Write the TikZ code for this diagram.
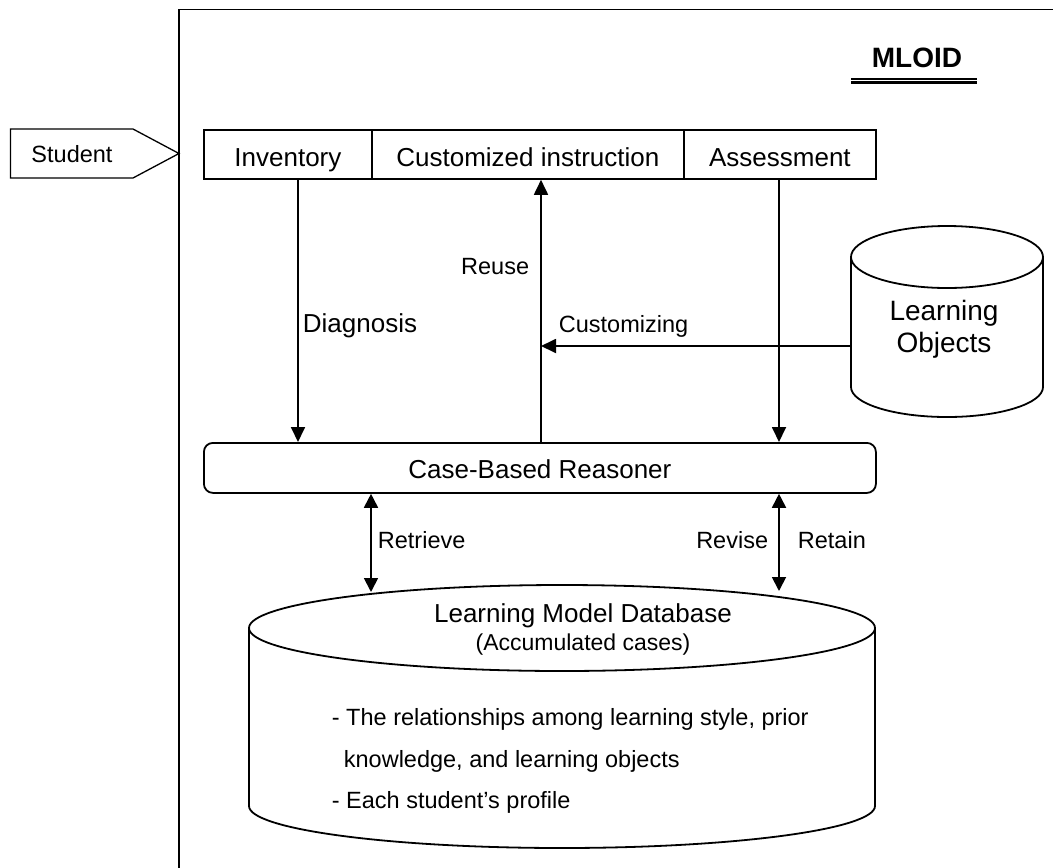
\documentclass[tikz,border=0pt]{standalone}
\usepackage{fontspec}
\setmainfont{Liberation Sans}
\usetikzlibrary{arrows.meta,calc}
\begin{document}
\begin{tikzpicture}[x=1pt,y=-1pt,line width=1.8pt,
  big/.style={font=\fontsize{26}{30}\selectfont},
  small/.style={font=\fontsize{23.5}{28}\selectfont},
  lbl/.style={inner sep=0pt,small},
  topbox/.style={draw,minimum height=49pt,inner sep=0pt,big,anchor=north west,text height=24pt,text depth=0pt},
  arr/.style={-{Triangle[length=15pt,width=14pt]}},
  darr/.style={{Triangle[length=14pt,width=14pt]}-{Triangle[length=14pt,width=14pt]}}]
\useasboundingbox (0,0) rectangle (1053,868);
\fill[white] (0,0) rectangle (1053,868);
% frame
\draw (179,868) -- (179,9.5) -- (1053,9.5);
% title
\node[inner sep=0pt,anchor=base,font=\fontsize{28}{32}\selectfont\bfseries] (title) at (917,67) {MLOID};
\draw[line width=1.4pt] (851,79) -- (977,79);
\draw[line width=3.2pt] (851,82.6) -- (977,82.6);
% student
\draw[line width=1.3pt] (10.5,129) -- (133,129) -- (179,153.5) -- (133,178) -- (10.5,178) -- cycle;
\node[lbl,anchor=base] (stu) at (72,162) {Student};
% top row
\node[topbox,minimum width=168pt] (inv) at (203,129) {Inventory};
\node[topbox,minimum width=312pt] (cust) at (371,129) {Customized instruction};
\node[topbox,minimum width=192pt] (ass) at (683,129) {Assessment};
% case-based reasoner
\node[draw,rounded corners=9pt,minimum width=672pt,minimum height=50pt,inner sep=0pt,anchor=north west,big,text height=22pt,text depth=0pt] (cbr) at (203,442) {Case-Based Reasoner};
% learning objects cylinder
\draw (851,257) -- (851,387) arc[start angle=180,end angle=0,x radius=96,y radius=30] -- (1043,257);
\draw (947,257) ellipse[x radius=96,y radius=31];
\coordinate (loL) at (851,346);
\node[inner sep=0pt,anchor=base,font=\fontsize{28}{32}\selectfont] (lo1) at (944,320) {Learning};
\node[inner sep=0pt,anchor=base,font=\fontsize{28}{32}\selectfont] (lo2) at (944,352) {Objects};
% learning model database cylinder
\draw (249,628) -- (249,806) arc[start angle=180,end angle=0,x radius=313,y radius=42] -- (875,628);
\draw (562,628) ellipse[x radius=313,y radius=43];
\coordinate (dbT) at (371,592);
\coordinate (dbA) at (779,591);
\node[inner sep=0pt,anchor=base,big] (db1) at (583,622) {Learning Model Database};
\node[inner sep=0pt,anchor=base,font=\fontsize{23}{28}\selectfont] (db2) at (583,650) {(Accumulated cases)};
\node[lbl,anchor=base west] (b1) at (331,725) {- The relationships among learning style, prior};
\node[lbl,anchor=base west] (b2) at (343,767) {knowledge, and learning objects};
\node[lbl,anchor=base west] (b3) at (331,808) {- Each student’s profile};
% x positions
\coordinate (xD) at (298,0);
\coordinate (xR) at (541,0);
\coordinate (xA) at (779,0);
\coordinate (xT) at (371,0);
% connectors
\draw[arr] (inv.south -| xD) -- (cbr.north -| xD);
\draw[arr] (cbr.north -| xR) -- (cust.south -| xR);
\draw[arr] (loL) -- (loL -| xR);
\draw[arr] (ass.south -| xA) -- (cbr.north -| xA);
\draw[darr] (cbr.south -| xT) -- (dbT);
\draw[darr] (cbr.south -| xA) -- (dbA);
% labels
\node[inner sep=0pt,anchor=base west,big] (ldiag) at (302,332) {Diagnosis};
\node[lbl,anchor=base east] (lreuse) at (530,274) {Reuse};
\node[lbl,anchor=base west] (lcust) at (558,332) {Customizing};
\node[lbl,anchor=base west] (lret) at (377,548) {Retrieve};
\node[lbl,anchor=base east] (lrev) at (769,548) {Revise};
\node[lbl,anchor=base west] (lretain) at (797,548) {Retain};
\end{tikzpicture}
\end{document}
